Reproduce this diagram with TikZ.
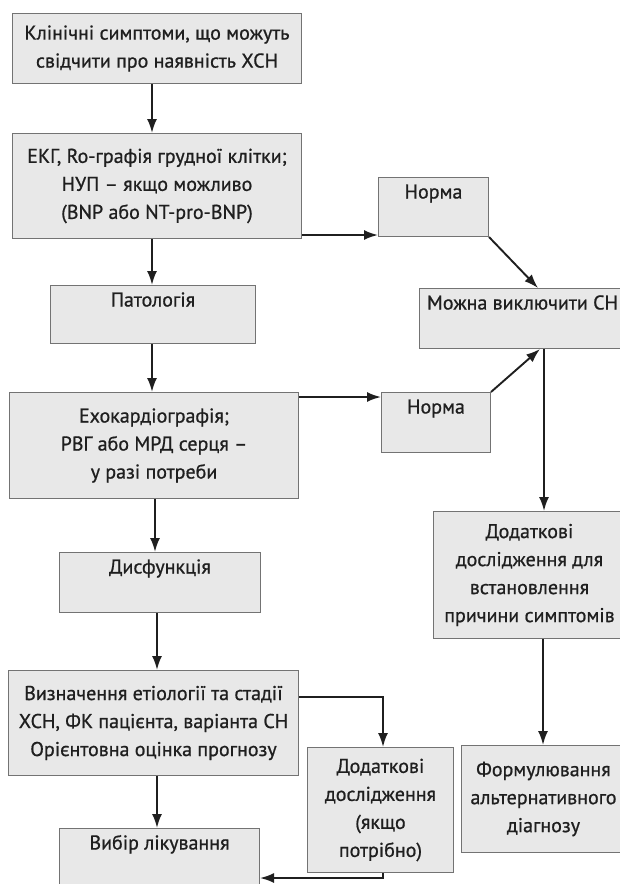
\documentclass[tikz,border=0pt]{standalone}
\usepackage{fontspec}
\setmainfont{PT Sans}[FakeBold=0.8]
\usetikzlibrary{arrows.meta}
\begin{document}
\begin{tikzpicture}[x=1pt,y=-1pt,
  box/.style={draw=black!55, fill=black!9, line width=1pt, inner sep=0pt, align=center,
    anchor=north west, text=black!88, font=\fontsize{20}{28}\selectfont},
  box1/.style={box, text height=21pt},
  arr/.style={-{Latex[length=14pt,width=10pt]}, line width=1.9pt, draw=black!88}]
\useasboundingbox (0,0) rectangle (619,884);
\node[box, minimum width=289pt, minimum height=70pt] (b1) at (12,13) {Клінічні симптоми, що можуть\\свідчити про наявність ХСН};
\node[box, minimum width=289pt, minimum height=105pt] (b2) at (12,133) {ЕКГ, Ro-графія грудної клітки;\\НУП – якщо можливо\\(BNP або NT-pro-BNP)};
\node[box1, minimum width=205pt, text depth=37pt] (pat) at (50,285) {Патологія};
\node[box, minimum width=289pt, minimum height=106pt] (echo) at (9,392) {Ехокардіографія;\\РВГ або МРД серця –\\у разі потреби};
\node[box1, minimum width=201pt, text depth=39pt] (dys) at (59,552) {Дисфункція};
\node[box, minimum width=290pt, minimum height=105pt] (det) at (8,670) {Визначення етіології та стадії\\ХСН, ФК пацієнта, варіанта СН\\Орієнтовна оцінка прогнозу};
\node[box1, minimum width=200pt, text depth=60pt] (chs) at (59,828) {Вибір лікування};
\node[box, minimum width=146pt, minimum height=125pt] (add2) at (307,747) {Додаткові\\дослідження\\(якщо\\потрібно)};
\node[box1, minimum width=110pt, text depth=38pt] (n1) at (378,177) {Норма};
\node[box1, minimum width=206pt, text depth=39pt] (excl) at (419,288) {Можна виключити СН};
\node[box1, minimum width=109pt, text depth=39pt] (n2) at (381,392) {Норма};
\node[box, minimum width=192pt, minimum height=127pt] (add1) at (433,511) {Додаткові\\дослідження для\\встановлення\\причини симптомів};
\node[box, minimum width=164pt, minimum height=107pt] (alt) at (461,745) {Формулювання\\альтернативного\\діагнозу};
\coordinate (xa) at (152,0);
\coordinate (xb) at (155,0);
\coordinate (xc) at (157,0);
\coordinate (xd) at (383,0);
\coordinate (xe) at (544,0);
\coordinate (xf) at (543,0);
\coordinate (xg) at (538,0);
\coordinate (xh) at (540,0);
\coordinate (yA) at (0,235);
\coordinate (yB) at (0,397);
\coordinate (yC) at (0,697);
\coordinate (yD) at (0,878);
\draw[arr] (b1.south -| xa) -- (b2.north -| xa);
\draw[arr] (b2.south -| xa) -- (pat.north -| xa);
\draw[arr] (pat.south -| xa) -- (echo.north -| xa);
\draw[arr] (echo.south -| xb) -- (dys.north -| xb);
\draw[arr] (dys.south -| xc) -- (det.north -| xc);
\draw[arr] (det.south -| xc) -- (chs.north -| xc);
\draw[arr] (b2.east |- yA) -- (n1.west |- yA);
\draw[arr] (n1.south east) -- (excl.north -| xg);
\draw[arr] (echo.east |- yB) -- (n2.west |- yB);
\draw[arr] (n2.north east) -- (excl.south -| xh);
\draw[arr] (excl.south -| xe) -- (add1.north -| xe);
\draw[arr] (add1.south -| xf) -- (alt.north -| xf);
\draw[arr] (det.east |- yC) -| (add2.north -| xd);
\draw[arr] (add2.south -| xd) |- (chs.east |- yD);
\end{tikzpicture}
\end{document}
